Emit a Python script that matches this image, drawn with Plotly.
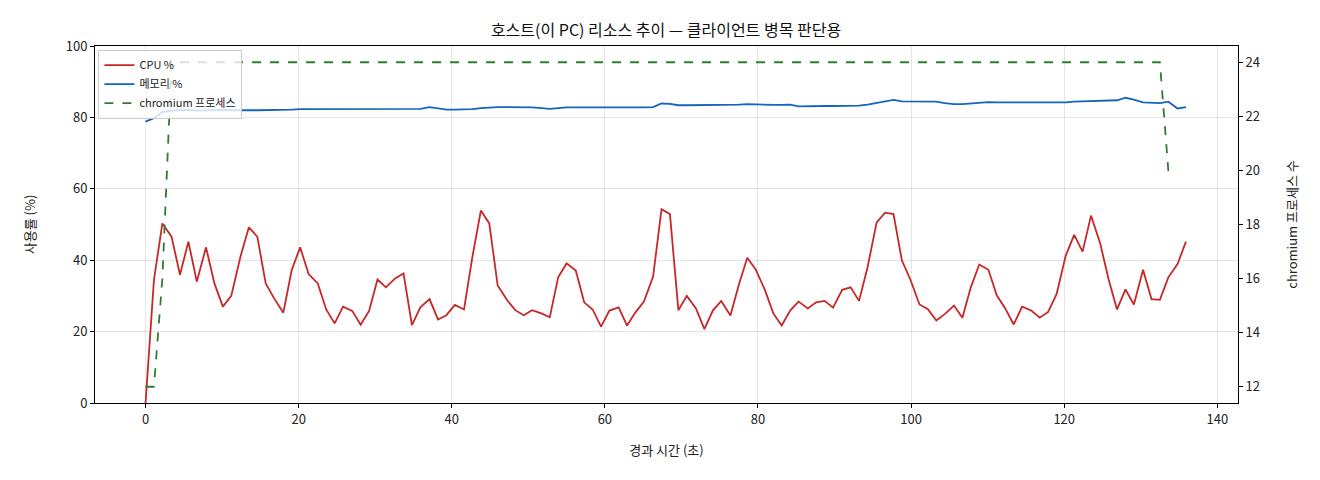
import plotly.graph_objects as go

# elapsed seconds for each sample
elapsed_s = [0.0, 1.1, 2.2, 3.4, 4.5, 5.6, 6.7, 7.9, 9.0, 10.1, 11.2, 12.4, 13.5, 14.6, 15.7, 16.8,
             18.0, 19.1, 20.2, 21.3, 22.5, 23.6, 24.7, 25.8, 27.0, 28.1, 29.2, 30.3, 31.4, 32.6, 33.7,
             34.8, 35.9, 37.1, 38.2, 39.3, 40.4, 41.6, 42.7, 43.8, 44.9, 46.0, 47.2, 48.3, 49.4, 50.5,
             51.7, 52.8, 53.9, 55.0, 56.2, 57.3, 58.4, 59.5, 60.6, 61.8, 62.9, 64.0, 65.1, 66.3, 67.4,
             68.5, 69.6, 70.7, 71.9, 73.0, 74.1, 75.2, 76.4, 77.5, 78.6, 79.7, 80.9, 82.0, 83.1, 84.2,
             85.3, 86.5, 87.6, 88.7, 89.8, 91.0, 92.1, 93.2, 94.3, 95.5, 96.6, 97.7, 98.8, 99.9, 101.1,
             102.2, 103.3, 104.4, 105.6, 106.7, 107.8, 108.9, 110.1, 111.2, 112.3, 113.4, 114.5, 115.7,
             116.8, 117.9, 119.0, 120.2, 121.3, 122.4, 123.5, 124.7, 125.8, 126.9, 128.0, 129.1, 130.3,
             131.4, 132.5, 133.6, 134.8, 135.9]

cpu_pct = [0, 34.5, 50.3, 46.6, 35.9, 45.2, 34.0, 43.6, 33.5, 27.0, 30.0, 41.0, 49.2, 46.6, 33.5,
           29.3, 25.3, 37.3, 43.6, 36.1, 33.5, 26.2, 22.3, 27.0, 25.8, 21.9, 25.8, 34.6, 32.4, 34.9, 36.3,
           21.8, 26.8, 29.1, 23.4, 24.6, 27.5, 26.2, 41.0, 53.9, 50.3, 32.9, 28.9, 26.0, 24.6, 26.0,
           25.1, 24.0, 35.2, 39.1, 37.1, 28.2, 26.2, 21.4, 25.9, 26.8, 21.7, 25.4, 28.4, 35.4, 54.3, 52.9,
           26.0, 30.0, 26.5, 20.7, 25.9, 28.6, 24.5, 33.1, 40.7, 37.4, 31.7, 25.1, 21.7, 25.9, 28.4,
           26.5, 28.2, 28.6, 26.7, 31.7, 32.4, 28.6, 37.9, 50.6, 53.3, 52.9, 39.9, 34.6, 27.6, 26.3, 23.1, 24.9,
           27.3, 23.9, 32.4, 38.8, 37.3, 30.1, 26.5, 22.0, 27.0, 25.9, 23.9, 25.5, 30.5, 41.3, 47.1,
           42.4, 52.5, 44.7, 34.6, 26.2, 31.8, 27.6, 37.3, 29.1, 28.9, 35.2, 38.9, 45.2]

mem_pct = [78.8, 79.8, 81.5, 81.9, 82.0, 82.1, 81.9, 82.0, 82.0, 82.1, 82.0, 81.9, 82.0, 82.0,
           82.0, 82.0, 82.1, 82.2, 82.3, 82.3, 82.4, 82.3, 82.2, 82.2,
           82.2, 82.3, 82.2, 82.3, 82.3, 82.4, 82.3, 82.3, 82.4, 82.9, 82.5,
           82.2, 82.2, 82.2, 82.3, 82.6, 82.8, 82.9, 82.9, 82.9, 82.9, 82.8, 82.6, 82.4,
           82.6, 82.8, 82.8, 82.8, 82.8, 82.8, 82.7, 82.7, 82.6, 82.6, 82.8, 82.9, 83.9, 83.8, 83.4,
           83.4, 83.4, 83.5, 83.4, 83.4, 83.4, 83.6, 83.7, 83.6, 83.5, 83.5, 83.5, 83.6,
           83.1, 83.2, 83.3, 83.2, 83.2, 83.2, 83.2, 83.3, 83.6, 84.0, 84.4, 84.9,
           84.5, 84.5, 84.5, 84.4, 84.4, 84.0, 83.7, 83.7, 83.9, 84.1,
           84.3, 84.2, 84.2, 84.2, 84.1, 84.1, 84.1, 84.1, 84.2, 84.2, 84.4,
           84.5, 84.7, 84.8, 84.9, 84.8, 85.5, 85.0, 84.2, 84.1, 84.0, 84.4, 82.5, 82.9]

chromium_procs = [12, 12, 16] + [24] * 116 + [20, 20]

font = "Noto Sans CJK KR, Noto Sans, sans-serif"

fig = go.Figure()
fig.add_trace(go.Scatter(x=elapsed_s, y=cpu_pct, mode="lines", name="CPU %",
                         line=dict(color="#c62828", width=1.8)))
fig.add_trace(go.Scatter(x=elapsed_s, y=mem_pct, mode="lines", name="메모리 %",
                         line=dict(color="#1565c0", width=1.8)))
fig.add_trace(go.Scatter(x=elapsed_s, y=chromium_procs, mode="lines", name="chromium 프로세스",
                         yaxis="y2", line=dict(color="#2e7d32", width=1.8, dash="dash")))

# page body adds an 8px offset, so margins are shifted to compensate
fig.update_layout(
    width=1320, height=480,
    paper_bgcolor="white", plot_bgcolor="white",
    margin=dict(l=87, r=90, t=38, b=85, autoexpand=False),
    font=dict(family=font, size=13, color="#222"),
    title=dict(text="호스트(이 PC) 리소스 추이 — 클라이언트 병목 판단용", x=(666 - 8) / 1320, xanchor="center",
               y=1 - 22 / 480, yanchor="middle", yref="container", font=dict(size=16, color="#111")),
    xaxis=dict(range=[-6.6, 142.7], tickvals=[0, 20, 40, 60, 80, 100, 120, 140],
               showgrid=True, gridcolor="rgba(0,0,0,0.1)", zeroline=False, automargin=False,
               showline=True, linecolor="black", linewidth=1, mirror=True,
               ticks="outside", ticklen=4, tickcolor="black",
               title=dict(text="경과 시간 (초)", standoff=19, font=dict(size=13))),
    yaxis=dict(range=[0, 100], tickvals=[0, 20, 40, 60, 80, 100],
               showgrid=True, gridcolor="rgba(0,0,0,0.1)", zeroline=False, automargin=False,
               showline=True, linecolor="black", linewidth=1,
               ticks="outside", ticklen=4, tickcolor="black",
               title=dict(text="사용률 (%)", standoff=27, font=dict(size=13))),
    yaxis2=dict(range=[11.4, 24.6], tickvals=[12, 14, 16, 18, 20, 22, 24], overlaying="y", side="right",
                showgrid=False, zeroline=False, automargin=False,
                showline=True, linecolor="black", linewidth=1,
                ticks="outside", ticklen=4, tickcolor="black",
                title=dict(text="chromium 프로세스 수", standoff=28, font=dict(size=13))),
    legend=dict(x=0.003, y=0.99, xanchor="left", yanchor="top",
                bgcolor="rgba(255,255,255,0.8)", bordercolor="#cccccc", borderwidth=1,
                font=dict(size=11), tracegroupgap=0),
    showlegend=True,
)

fig.write_html("out.html")
